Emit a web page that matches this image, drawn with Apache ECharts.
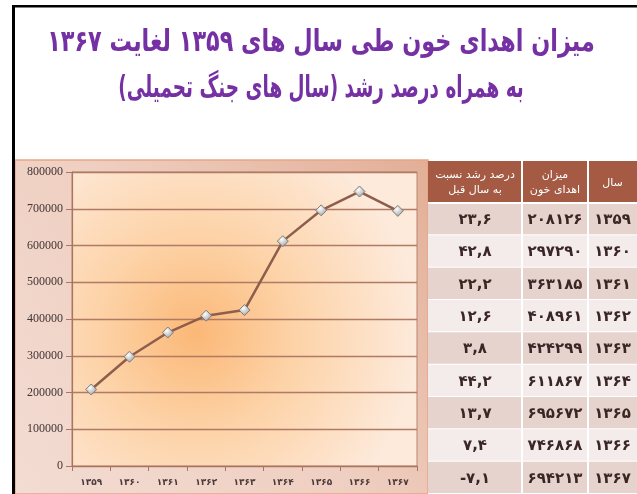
<!DOCTYPE html>
<html>
<head>
<meta charset="utf-8">
<script src="https://cdn.jsdelivr.net/npm/echarts@6/dist/echarts.min.js"></script>
<style>html,body{margin:0;padding:0;background:#fff}#c{width:637px;height:494px}</style>
</head>
<body>
<div id="c"></div>
<script>
// ---- data ----
var years = [1359, 1360, 1361, 1362, 1363, 1364, 1365, 1366, 1367];
var donations = [208126, 297290, 363185, 408961, 424299, 611867, 695672, 746868, 694213];
var growth = [23.6, 42.8, 22.2, 12.6, 3.8, 44.2, 13.7, 7.4, -7.1];
var yTicks = [0, 100000, 200000, 300000, 400000, 500000, 600000, 700000, 800000];
var titleLine1 = 'میزان اهدای خون طی سال های ۱۳۵۹ لغایت ۱۳۶۷';
var titleLine2 = 'به همراه درصد رشد (سال های جنگ تحمیلی)';
var headers = ['درصد رشد نسبت\nبه سال قبل', 'میزان\nاهدای خون', 'سال'];

function fa(v) {
  return String(v).replace(/[0-9]/g, function (d) { return '۰۱۲۳۴۵۶۷۸۹'[+d]; }).replace('.', ',');
}

var chart = echarts.init(document.getElementById('c'), null, {renderer: 'canvas'});
var RLM = '\u200F';

// table layout (px)
var T = {left: 428, top: 161, headH: 42, rowH: 33.4, cols: [428, 522, 588, 637]};

function titleText(txt, y, sx) {
  return {type: 'text', z: 50, x: 321, y: y, scaleX: sx,
    style: {text: RLM + txt + RLM, x: 0, y: 0, align: 'center', verticalAlign: 'middle',
      font: 'bold 30px "DejaVu Sans"', fill: '#7530a3',
      shadowColor: 'rgba(60,20,80,0.45)', shadowBlur: 3, shadowOffsetX: 1, shadowOffsetY: 2}};
}

var option = {
  animation: false,
  backgroundColor: '#ffffff',
  graphic: [
    titleText(titleLine1, 43, 0.745),
    titleText(titleLine2, 89, 0.615),
    // black frame
    {type: 'rect', z: 100, shape: {x: 12, y: 5, width: 625, height: 2.5}, style: {fill: '#000'}},
    {type: 'rect', z: 100, shape: {x: 12, y: 5, width: 3, height: 489}, style: {fill: '#000'}},
    // chart area background
    {type: 'rect', z: -10, shape: {x: 15, y: 160, width: 413, height: 334},
      style: {
        fill: new echarts.graphic.LinearGradient(0, 1, 1, 0, [
          {offset: 0, color: '#f3dcd3'}, {offset: 0.5, color: '#efcfc1'}, {offset: 1, color: '#e2ae96'}
        ]),
        stroke: '#e9a585', lineWidth: 1.5
      }},
    // table header
    {type: 'rect', z: 5, shape: {x: T.cols[0], y: T.top, width: T.cols[3] - T.cols[0], height: T.headH}, style: {fill: '#a45a43'}},
    {type: 'rect', z: 6, shape: {x: T.cols[1] - 1, y: T.top, width: 2, height: T.headH}, style: {fill: '#ffffff'}},
    {type: 'rect', z: 6, shape: {x: T.cols[2] - 1, y: T.top, width: 2, height: T.headH}, style: {fill: '#ffffff'}},
    {type: 'rect', z: 6, shape: {x: T.cols[0], y: T.top + T.headH - 1, width: T.cols[3] - T.cols[0], height: 2}, style: {fill: '#ffffff'}}
  ].concat(headers.map(function (h, i) {
    return {type: 'text', z: 7,
      style: {text: h, x: (T.cols[i] + T.cols[i + 1]) / 2, y: T.top + T.headH / 2 + 1, align: 'center', verticalAlign: 'middle',
        fill: '#ffffff', font: '11px "DejaVu Sans"', lineHeight: 15}};
  })),
  grid: [
    {left: 72, right: 220, top: 172, bottom: 28, show: true, borderColor: '#b8846f', borderWidth: 1,
      backgroundColor: {type: 'radial', x: 0.36, y: 0.55, r: 0.75, colorStops: [
        {offset: 0, color: '#fbb877'}, {offset: 0.45, color: '#fdd3a8'}, {offset: 1, color: '#fdeadb'}
      ]}},
    {left: T.left, right: 0, top: T.top + T.headH, height: T.rowH * years.length}
  ],
  xAxis: [
    {type: 'category', gridIndex: 0, data: years, boundaryGap: true,
      axisLine: {lineStyle: {color: '#a87560', width: 1.2}},
      axisTick: {show: true, length: 5, lineStyle: {color: '#a87560'}},
      axisLabel: {formatter: function (v) { return fa(v); }, color: '#4a3a3a', fontSize: 9, fontWeight: 'bold', fontFamily: 'DejaVu Sans', margin: 12}},
    {type: 'value', gridIndex: 1, min: 0, max: 1, show: false}
  ],
  yAxis: [
    {type: 'value', gridIndex: 0, min: 0, max: 800000, interval: 100000,
      axisLine: {show: true, lineStyle: {color: '#a87560', width: 1.2}},
      axisTick: {show: true, length: 6, lineStyle: {color: '#a87560'}},
      splitLine: {lineStyle: {color: '#b07a64', width: 1.3}},
      axisLabel: {color: '#403434', fontSize: 12, fontFamily: 'Liberation Serif', margin: 9,
        formatter: function (v) { return yTicks.indexOf(v) >= 0 ? String(v) : ''; }}},
    {type: 'category', gridIndex: 1, data: years, inverse: true, show: false}
  ],
  series: [
    {type: 'line', xAxisIndex: 0, yAxisIndex: 0, data: donations,
      lineStyle: {color: '#8e5e4c', width: 2.5},
      symbol: 'diamond', symbolSize: 11,
      itemStyle: {color: new echarts.graphic.RadialGradient(0.4, 0.35, 0.7, [
        {offset: 0, color: '#ffffff'}, {offset: 1, color: '#9a9a9a'}]), borderColor: '#7d7d7d', borderWidth: 1}},
    {type: 'custom', xAxisIndex: 1, yAxisIndex: 1,
      data: years.map(function (y, i) { return [0, i]; }),
      renderItem: function (params, api) {
        var i = params.dataIndex;
        var c = api.coord([0, i]);
        var h = api.size([0, 1])[1];
        var y0 = c[1] - h / 2;
        var fill = i % 2 === 0 ? '#e7d3cd' : '#f4ecea';
        var texts = [fa(growth[i]), fa(donations[i]), fa(years[i])];
        var children = [{type: 'rect', shape: {x: T.cols[0], y: y0, width: T.cols[3] - T.cols[0], height: h}, style: {fill: fill}}];
        for (var k = 1; k < 3; k++) {
          children.push({type: 'rect', shape: {x: T.cols[k] - 1, y: y0, width: 2, height: h}, style: {fill: '#ffffff'}});
        }
        children.push({type: 'rect', shape: {x: T.cols[0], y: y0 + h - 1, width: T.cols[3] - T.cols[0], height: 2}, style: {fill: '#ffffff'}});
        for (var j = 0; j < 3; j++) {
          children.push({type: 'text', style: {text: texts[j], x: (T.cols[j] + T.cols[j + 1]) / 2, y: c[1] + 1,
            align: 'center', verticalAlign: 'middle', fill: '#3a2626', font: 'bold 15px "DejaVu Sans"'}});
        }
        return {type: 'group', children: children};
      }}
  ]
};
chart.setOption(option);
</script>
</body>
</html>
